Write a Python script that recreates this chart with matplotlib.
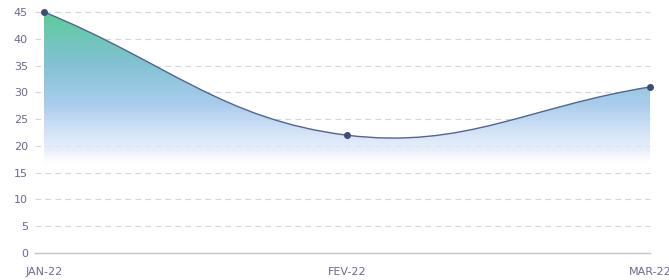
import numpy as np
import matplotlib.pyplot as plt
from matplotlib.path import Path
from matplotlib.patches import PathPatch
from matplotlib.colors import LinearSegmentedColormap

months = ["JAN-22", "FEV-22", "MAR-22"]
values = [45, 22, 31]

W, H = 669, 280
fig = plt.figure(figsize=(W / 100, H / 100), dpi=100)
ax = fig.add_axes([35 / W, 27 / H, 615 / W, 241 / H])
x0 = -9 / 303
ax.set_xlim(x0, 2)
ax.set_ylim(0, 45)

# chart.js style spline (tension 0.4), computed in pixel space
xs = np.arange(len(values), dtype=float)
ys = np.array(values, dtype=float)
px, py = 303.0, 241 / 45
t = 0.4
cps = []
for i in range(len(xs)):
    prv = max(i - 1, 0)
    nxt = min(i + 1, len(xs) - 1)
    d01 = np.hypot((xs[i] - xs[prv]) * px, (ys[i] - ys[prv]) * py)
    d12 = np.hypot((xs[nxt] - xs[i]) * px, (ys[nxt] - ys[i]) * py)
    s01 = d01 / (d01 + d12)
    s12 = d12 / (d01 + d12)
    dx, dy = xs[nxt] - xs[prv], ys[nxt] - ys[prv]
    cps.append(((xs[i] - t * s01 * dx, ys[i] - t * s01 * dy),
                (xs[i] + t * s12 * dx, ys[i] + t * s12 * dy)))

verts = [(xs[0], ys[0])]
codes = [Path.MOVETO]
for i in range(len(xs) - 1):
    verts += [cps[i][1], cps[i + 1][0], (xs[i + 1], ys[i + 1])]
    codes += [Path.CURVE4] * 3
line_path = Path(verts, codes)

fill_verts = verts + [(xs[-1], 0), (xs[0], 0), (xs[0], ys[0])]
fill_codes = codes + [Path.LINETO, Path.LINETO, Path.CLOSEPOLY]
fill_patch = PathPatch(Path(fill_verts, fill_codes), facecolor="none", edgecolor="none")
ax.add_patch(fill_patch)

# vertical gradient
cmap = LinearSegmentedColormap.from_list("g", [
    (0.0, (1, 1, 1, 0.0)),
    (0.36, (1, 1, 1, 0.0)),
    (0.42, (0.90, 0.93, 0.99, 0.8)),
    (0.62, (0.66, 0.80, 0.93, 1.0)),
    (0.80, (0.50, 0.76, 0.82, 1.0)),
    (1.0, (0.36, 0.80, 0.60, 1.0)),
])
grad = np.linspace(0, 1, 256).reshape(-1, 1)
im = ax.imshow(grad, cmap=cmap, origin="lower", aspect="auto",
               extent=[xs[0], xs[-1], 0, 45], zorder=2)
im.set_clip_path(fill_patch)

ax.add_patch(PathPatch(line_path, facecolor="none", edgecolor="#55648a",
                       lw=1.0, zorder=3, clip_on=False))
ax.plot(xs, ys, "o", color="#3f4c7a", ms=4, zorder=4, clip_on=False)

ax.set_yticks(range(0, 46, 5))
ax.set_xticks(xs)
ax.set_xticklabels(months)
for v in range(5, 46, 5):
    ax.axhline(v, color="#d4d4da", lw=0.8, ls=(0, (5, 4)), zorder=1, clip_on=False)
ax.axhline(0, color="#c4c4c8", lw=1.0, zorder=1, clip_on=False)

for s in ax.spines.values():
    s.set_visible(False)
ax.tick_params(length=0, colors="#6a6a8c", labelsize=8)
ax.tick_params(axis="y", pad=5)
ax.tick_params(axis="x", pad=10)

fig.savefig("out.png", dpi=100)
